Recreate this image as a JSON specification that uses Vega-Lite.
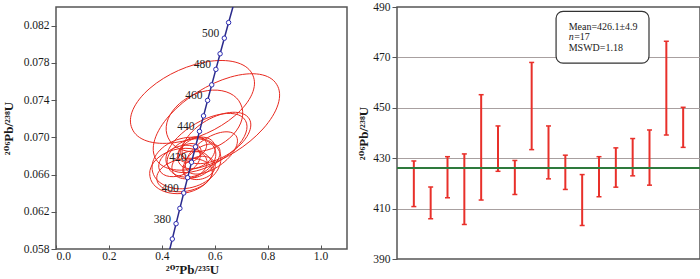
{
  "$schema": "https://vega.github.io/schema/vega-lite/v6.json",
  "background": "white",
  "padding": {"left": 1, "top": 0, "right": 0, "bottom": 0},
  "bounds": "flush",
  "spacing": 50,
  "config": {
    "font": "'Liberation Serif', 'Times New Roman', 'DejaVu Serif', serif",
    "view": {"stroke": "#555555", "strokeWidth": 1.5},
    "text": {"font": "'Liberation Serif', 'Times New Roman', 'DejaVu Serif', serif"},
    "axis": {
      "domain": false,
      "grid": false,
      "labelFont": "'Liberation Serif', 'Times New Roman', 'DejaVu Serif', serif",
      "labelFontSize": 11.5,
      "labelColor": "#1a1a1a",
      "tickColor": "#555555",
      "titleFont": "'Liberation Serif', 'Times New Roman', 'DejaVu Serif', serif",
      "titleFontSize": 13,
      "titleFontWeight": "bold",
      "titleColor": "#1a1a1a"
    }
  },
  "datasets": {
    "ellipses": [
      {"id": "e1", "x": 0.5158, "y": 0.0738},
      {"id": "e2", "x": 0.6064, "y": 0.07165},
      {"id": "e3", "x": 0.5611, "y": 0.07176},
      {"id": "e4", "x": 0.5687, "y": 0.06939},
      {"id": "e5", "x": 0.4932, "y": 0.06724},
      {"id": "e6", "x": 0.4743, "y": 0.06638},
      {"id": "e7", "x": 0.5121, "y": 0.06778},
      {"id": "e8", "x": 0.5309, "y": 0.06832},
      {"id": "e9", "x": 0.5045, "y": 0.06703},
      {"id": "e10", "x": 0.5498, "y": 0.06746},
      {"id": "e11", "x": 0.4857, "y": 0.06595},
      {"id": "e12", "x": 0.5875, "y": 0.06832},
      {"id": "e13", "x": 0.5196, "y": 0.06886},
      {"id": "e14", "x": 0.5423, "y": 0.06671},
      {"id": "e15", "x": 0.4668, "y": 0.06746},
      {"id": "e16", "x": 0.6064, "y": 0.06993},
      {"id": "e17", "x": 0.5045, "y": 0.06832}
    ],
    "conc": [
      {"t": 360, "r75": 0.42553, "r68": 0.057434},
      {"t": 370, "r75": 0.43964, "r68": 0.059075},
      {"t": 380, "r75": 0.45389, "r68": 0.06072},
      {"t": 390, "r75": 0.46828, "r68": 0.062366},
      {"t": 400, "r75": 0.48281, "r68": 0.064016},
      {"t": 410, "r75": 0.49749, "r68": 0.065668},
      {"t": 420, "r75": 0.51231, "r68": 0.067322},
      {"t": 430, "r75": 0.52728, "r68": 0.068979},
      {"t": 440, "r75": 0.54239, "r68": 0.070638},
      {"t": 450, "r75": 0.55766, "r68": 0.0723},
      {"t": 460, "r75": 0.57307, "r68": 0.073966},
      {"t": 470, "r75": 0.58864, "r68": 0.075633},
      {"t": 480, "r75": 0.60437, "r68": 0.077302},
      {"t": 490, "r75": 0.62025, "r68": 0.078975},
      {"t": 500, "r75": 0.63628, "r68": 0.08065},
      {"t": 510, "r75": 0.65248, "r68": 0.082328},
      {"t": 520, "r75": 0.66883, "r68": 0.084007},
      {"t": 530, "r75": 0.6853, "r68": 0.08569}
    ],
    "ages": [
      {"spot": 1, "lo": 410.8, "hi": 428.9},
      {"spot": 2, "lo": 406.0, "hi": 418.6},
      {"spot": 3, "lo": 414.3, "hi": 430.6},
      {"spot": 4, "lo": 403.7, "hi": 431.7},
      {"spot": 5, "lo": 413.4, "hi": 455.2},
      {"spot": 6, "lo": 424.8, "hi": 442.8},
      {"spot": 7, "lo": 415.6, "hi": 429.1},
      {"spot": 8, "lo": 433.4, "hi": 468.0},
      {"spot": 9, "lo": 421.8, "hi": 442.8},
      {"spot": 10, "lo": 417.6, "hi": 431.2},
      {"spot": 11, "lo": 403.3, "hi": 423.5},
      {"spot": 12, "lo": 414.7, "hi": 430.6},
      {"spot": 13, "lo": 418.5, "hi": 434.1},
      {"spot": 14, "lo": 423.0, "hi": 437.8},
      {"spot": 15, "lo": 419.3, "hi": 441.2},
      {"spot": 16, "lo": 439.2, "hi": 476.4},
      {"spot": 17, "lo": 434.3, "hi": 450.2}
    ],
    "note": [{"mean": 426.1}]
  },
  "hconcat": [
    {
      "width": 291,
      "height": 242,
      "layer": [
        {
          "data": {"name": "ellipses"},
          "mark": {"type": "point", "filled": false, "opacity": 1, "strokeWidth": 1, "color": "#e8291f"},
          "encoding": {
            "x": {"field": "x", "type": "quantitative", "title": "²⁰⁷Pb/²³⁵U",
              "scale": {"domain": [0, 1.1], "nice": false, "zero": false},
              "axis": {"values": [0, 0.2, 0.4, 0.6, 0.8, 1.0], "format": ".1f", "tickSize": -4, "labelPadding": 5, "titlePadding": 2, "titleX": 136}},
            "y": {"field": "y", "type": "quantitative", "title": "²⁰⁶Pb/²³⁸U",
              "scale": {"domain": [0.058, 0.084], "nice": false, "zero": false},
              "axis": {"values": [0.058, 0.062, 0.066, 0.07, 0.074, 0.078, 0.082], "format": ".3f", "tickSize": 5, "labelPadding": 2, "titlePadding": 8}},
            "shape": {"field": "id", "type": "nominal", "legend": null,
              "scale": {
                "domain": ["e1","e2","e3","e4","e5","e6","e7","e8","e9","e10","e11","e12","e13","e14","e15","e16","e17"],
                "range": [
                  "M -60.29 26.84 A 66 34 -24 1 0 60.29 -26.84 A 66 34 -24 1 0 -60.29 26.84 Z",
                  "M -60.21 37.62 A 71 35 -32 1 0 60.21 -37.62 A 71 35 -32 1 0 -60.21 37.62 Z",
                  "M -36.25 16.9 A 40 28 -25 1 0 36.25 -16.9 A 40 28 -25 1 0 -36.25 16.9 Z",
                  "M -38.97 22.5 A 45 22 -30 1 0 38.97 -22.5 A 45 22 -30 1 0 -38.97 22.5 Z",
                  "M -33.81 9.06 A 35 25 -15 1 0 33.81 -9.06 A 35 25 -15 1 0 -33.81 9.06 Z",
                  "M -31.51 5.56 A 32 22 -10 1 0 31.51 -5.56 A 32 22 -10 1 0 -31.51 5.56 Z",
                  "M -23.49 8.55 A 25 18 -20 1 0 23.49 -8.55 A 25 18 -20 1 0 -23.49 8.55 Z",
                  "M -17.32 10 A 20 14 -30 1 0 17.32 -10 A 20 14 -30 1 0 -17.32 10 Z",
                  "M -16.91 6.16 A 18 13 -20 1 0 16.91 -6.16 A 18 13 -20 1 0 -16.91 6.16 Z",
                  "M -16.85 14.14 A 22 12 -40 1 0 16.85 -14.14 A 22 12 -40 1 0 -16.85 14.14 Z",
                  "M -27.57 4.86 A 28 16 -10 1 0 27.57 -4.86 A 28 16 -10 1 0 -27.57 4.86 Z",
                  "M -24.58 17.21 A 30 15 -35 1 0 24.58 -17.21 A 30 15 -35 1 0 -24.58 17.21 Z",
                  "M -12.12 7 A 14 10 -30 1 0 12.12 -7 A 14 10 -30 1 0 -12.12 7 Z",
                  "M -15.45 4.14 A 16 11 -15 1 0 15.45 -4.14 A 16 11 -15 1 0 -15.45 4.14 Z",
                  "M -19.94 9.3 A 22 14 -25 1 0 19.94 -9.3 A 22 14 -25 1 0 -19.94 9.3 Z",
                  "M -32.91 19 A 38 20 -30 1 0 32.91 -19 A 38 20 -30 1 0 -32.91 19 Z",
                  "M -11.28 4.1 A 12 9 -20 1 0 11.28 -4.1 A 12 9 -20 1 0 -11.28 4.1 Z"
                ]
              }},
            "size": {"value": 4}
          }
        },
        {
          "data": {"name": "conc"},
          "mark": {"type": "line", "color": "#2b2b8c", "strokeWidth": 1.5, "clip": true},
          "encoding": {
            "x": {"field": "r75", "type": "quantitative", "title": "²⁰⁷Pb/²³⁵U"},
            "y": {"field": "r68", "type": "quantitative", "title": "²⁰⁶Pb/²³⁸U"},
            "order": {"field": "t"}
          }
        },
        {
          "data": {"name": "conc"},
          "transform": [{"filter": "datum.t >= 370 && datum.t <= 510"}],
          "mark": {"type": "point", "shape": "circle", "filled": true, "fill": "white", "stroke": "#2b2bb0", "strokeWidth": 1, "opacity": 1, "size": 20},
          "encoding": {
            "x": {"field": "r75", "type": "quantitative", "title": "²⁰⁷Pb/²³⁵U"},
            "y": {"field": "r68", "type": "quantitative", "title": "²⁰⁶Pb/²³⁸U"}
          }
        },
        {
          "data": {"name": "conc"},
          "transform": [{"filter": "datum.t >= 380 && datum.t <= 500 && datum.t % 20 == 0"}],
          "mark": {"type": "text", "align": "right", "baseline": "middle", "dx": -5, "dy": -4, "fontSize": 11.5, "color": "#222222"},
          "encoding": {
            "x": {"field": "r75", "type": "quantitative", "title": "²⁰⁷Pb/²³⁵U"},
            "y": {"field": "r68", "type": "quantitative", "title": "²⁰⁶Pb/²³⁸U"},
            "text": {"field": "t", "type": "quantitative"}
          }
        }
      ]
    },
    {
      "width": 303,
      "height": 252,
      "layer": [
        {
          "data": {"name": "ages"},
          "mark": {"type": "rule", "color": "#e8302a", "strokeWidth": 2},
          "encoding": {
            "x": {"field": "spot", "type": "quantitative", "scale": {"domain": [0, 18], "nice": false, "zero": false}, "axis": null},
            "y": {"field": "lo", "type": "quantitative", "title": "²⁰⁶Pb/²³⁸U",
              "scale": {"domain": [390, 490], "nice": false, "zero": false},
              "axis": {"values": [390, 410, 430, 450, 470, 490], "tickSize": 5, "labelPadding": 2, "titlePadding": 2,
                "grid": true, "gridColor": "#a8a0a0", "gridWidth": 1,
                "gridOpacity": {"condition": {"test": "datum.value === 390 || datum.value === 490", "value": 0}, "value": 1}}},
            "y2": {"field": "hi"}
          }
        },
        {
          "data": {"name": "ages"},
          "mark": {"type": "tick", "orient": "horizontal", "color": "#e8302a", "size": 5, "thickness": 1.5, "opacity": 1},
          "encoding": {
            "x": {"field": "spot", "type": "quantitative"},
            "y": {"field": "lo", "type": "quantitative", "title": "²⁰⁶Pb/²³⁸U"}
          }
        },
        {
          "data": {"name": "ages"},
          "mark": {"type": "tick", "orient": "horizontal", "color": "#e8302a", "size": 5, "thickness": 1.5, "opacity": 1},
          "encoding": {
            "x": {"field": "spot", "type": "quantitative"},
            "y": {"field": "hi", "type": "quantitative", "title": "²⁰⁶Pb/²³⁸U"}
          }
        },
        {
          "data": {"name": "note"},
          "mark": {"type": "rule", "color": "#2e7a3c", "strokeWidth": 2},
          "encoding": {"y": {"field": "mean", "type": "quantitative", "title": "²⁰⁶Pb/²³⁸U"}}
        },
        {
          "data": {"name": "note"},
          "mark": {"type": "rect", "fill": "white", "stroke": "#333333", "strokeWidth": 1.2, "cornerRadius": 7},
          "encoding": {
            "x": {"datum": 9.45}, "x2": {"datum": 14.97},
            "y": {"datum": 488.3}, "y2": {"datum": 467.7}
          }
        },
        {
          "data": {"name": "note"},
          "mark": {"type": "text", "align": "left", "baseline": "middle", "fontSize": 10, "color": "#1a1a1a", "text": "Mean=426.1±4.9"},
          "encoding": {"x": {"datum": 10.2}, "y": {"datum": 482.2}}
        },
        {
          "data": {"name": "note"},
          "mark": {"type": "text", "align": "left", "baseline": "middle", "fontSize": 10, "fontStyle": "italic", "color": "#1a1a1a", "text": "n"},
          "encoding": {"x": {"datum": 10.2}, "y": {"datum": 478.0}}
        },
        {
          "data": {"name": "note"},
          "mark": {"type": "text", "align": "left", "baseline": "middle", "fontSize": 10, "color": "#1a1a1a", "text": "=17", "dx": 5.5},
          "encoding": {"x": {"datum": 10.2}, "y": {"datum": 478.0}}
        },
        {
          "data": {"name": "note"},
          "mark": {"type": "text", "align": "left", "baseline": "middle", "fontSize": 10, "color": "#1a1a1a", "text": "MSWD=1.18"},
          "encoding": {"x": {"datum": 10.2}, "y": {"datum": 473.8}}
        }
      ]
    }
  ]
}
